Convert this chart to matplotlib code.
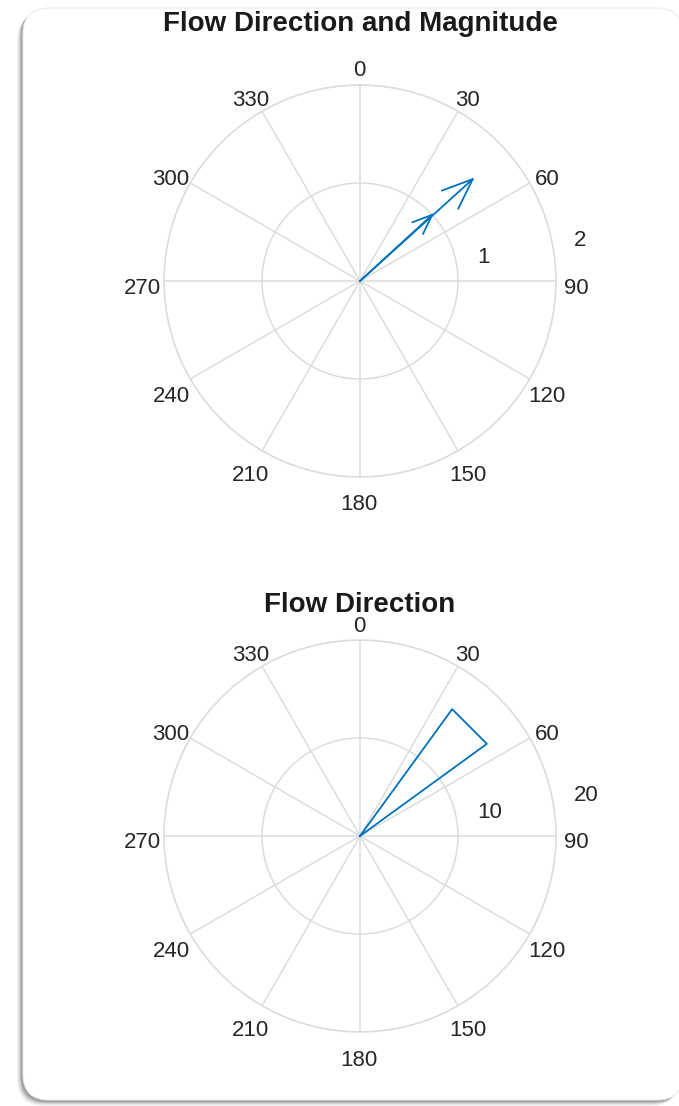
import numpy as np
import matplotlib.pyplot as plt
from matplotlib.patches import FancyBboxPatch

plt.rcParams['font.family'] = ['Liberation Sans', 'DejaVu Sans']

# compass data (direction in degrees clockwise from north, magnitude)
arrow_dirs = [47.5, 47.9]
arrow_mags = [1.0, 1.55]

# rose data: 20 bins of 18 degrees, counts per bin
bin_edges = np.arange(0, 361, 18)
bin_counts = [0, 0, 16, 0, 0, 0, 0, 0, 0, 0, 0, 0, 0, 0, 0, 0, 0, 0, 0, 0]

theta_ticks = list(range(0, 360, 30))

blue = '#0072BD'
grid_c = '#DCDCDC'
text_c = '#262626'

W, H = 679, 1106
fig = plt.figure(figsize=(W / 100, H / 100), dpi=100)

# card with soft shadow (display coords, y from bottom)
cx, cy, cw, ch = 23, 6, 660, 1092
for i, a in enumerate([0.04, 0.06, 0.08, 0.11, 0.15]):
    off = 6 - i
    sh = FancyBboxPatch((cx - off, cy - off), cw, ch,
                        boxstyle='round,pad=0,rounding_size=26',
                        transform=None, fc='black', ec='none', alpha=a, zorder=-20)
    fig.patches.append(sh)
card = FancyBboxPatch((cx, cy), cw, ch, boxstyle='round,pad=0,rounding_size=26',
                      transform=None, fc='white', ec='#EBEBEB', lw=0.8, zorder=-10)
fig.patches.append(card)


def setup(ax, rmax, rticks):
    ax.set_theta_zero_location('N')
    ax.set_theta_direction(-1)
    ax.set_ylim(0, rmax)
    ax.set_yticks(rticks)
    ax.set_yticklabels([])
    ax.set_thetagrids(theta_ticks, [''] * len(theta_ticks))
    ax.grid(True, color=grid_c, lw=1.1)
    ax.spines['polar'].set_color(grid_c)
    ax.spines['polar'].set_linewidth(1.1)
    ax.set_facecolor('none')
    # MATLAB-like theta labels outside the circle
    for t in theta_ticks:
        tr = np.deg2rad(t)
        ax.annotate(str(t), xy=(tr, rmax), xytext=(21 * np.sin(tr) - 1, 21 * np.cos(tr) - 7),
                    textcoords='offset pixels', ha='center', va='center',
                    fontsize=16, color=text_c, annotation_clip=False)
    # radial labels at 80 degrees
    for r in rticks:
        ax.annotate(str(r), xy=(np.deg2rad(80), r), xytext=(20.5, 6),
                    textcoords='offset pixels', ha='left', va='center',
                    fontsize=16, color=text_c, annotation_clip=False)


R = 196
ax1 = fig.add_axes([(360 - R) / W, 1 - (281 + R) / H, 2 * R / W, 2 * R / H], projection='polar')
setup(ax1, 2, [1, 2])
for d, m in zip(arrow_dirs, arrow_mags):
    t = np.deg2rad(d)
    off = np.arctan2(0.08, 0.8)
    rb = m * np.hypot(0.8, 0.08)
    ax1.plot([t, t], [0, m], color=blue, lw=1.3)
    ax1.plot([t - off, t, t + off], [rb, m, rb], color=blue, lw=1.3)

ax2 = fig.add_axes([(360 - R) / W, 1 - (836 + R) / H, 2 * R / W, 2 * R / H], projection='polar')
setup(ax2, 20, [10, 20])
th, rr = [], []
for i, c in enumerate(bin_counts):
    a0, a1 = np.deg2rad(bin_edges[i]), np.deg2rad(bin_edges[i + 1])
    th += [0, a0, a1, 0]
    rr += [0, c, c, 0]
ax2.plot(th, rr, color=blue, lw=1.3)

fig.text(360 / W, 1 - 24 / H, 'Flow Direction and Magnitude', ha='center', va='center',
         fontsize=20, fontweight='bold', color='#1a1a1a')
fig.text(360 / W, 1 - 605 / H, 'Flow Direction', ha='center', va='center',
         fontsize=20, fontweight='bold', color='#1a1a1a')

fig.savefig('out.png', dpi=100)
